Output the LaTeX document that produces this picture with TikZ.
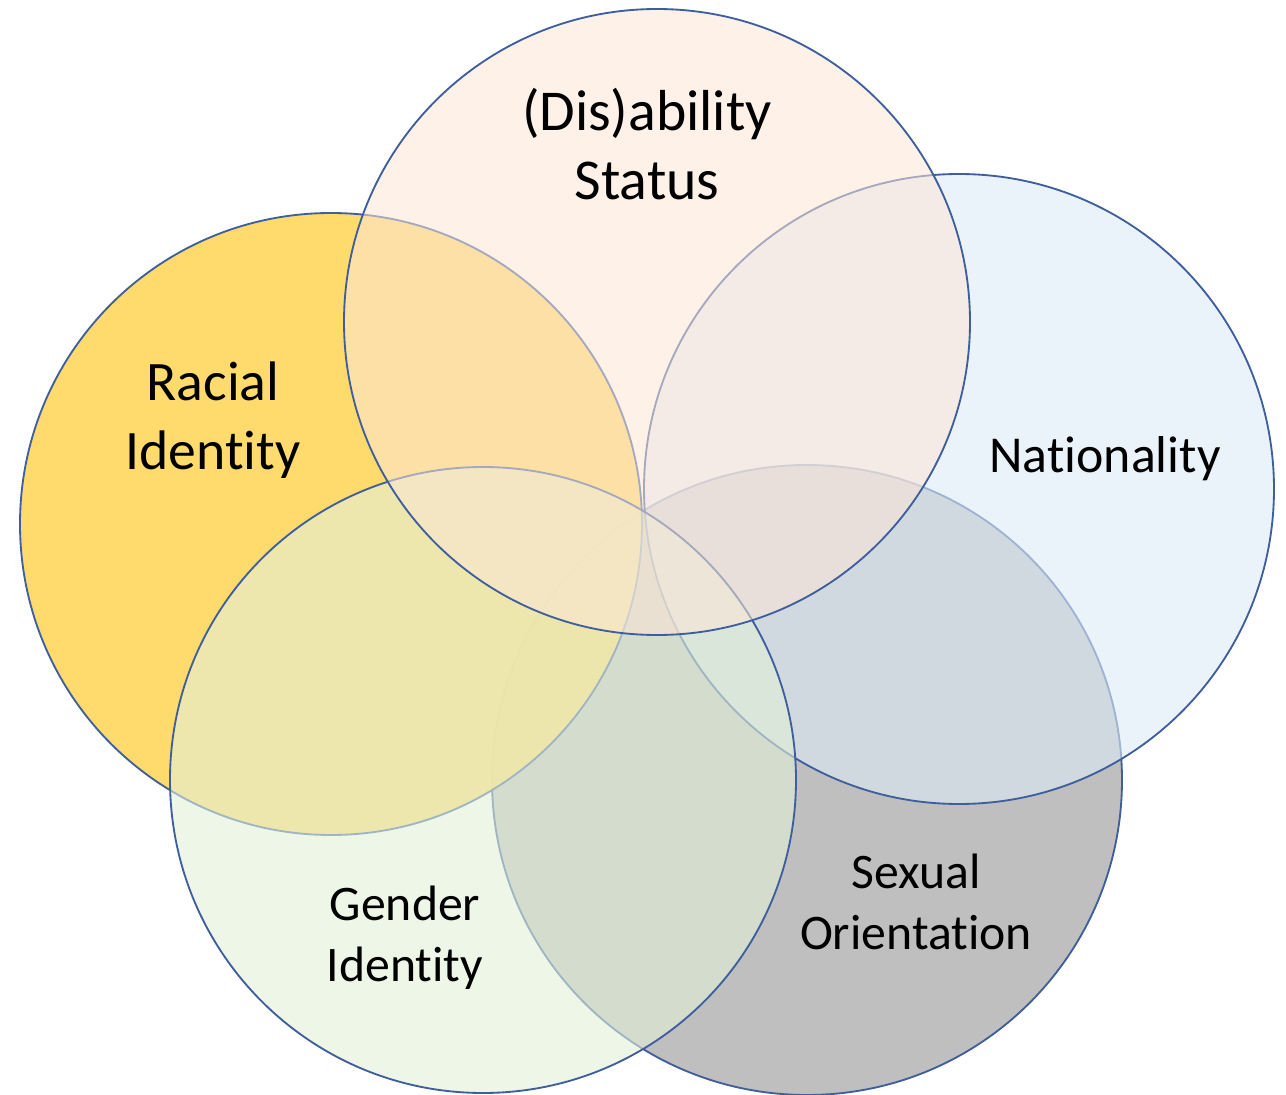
\documentclass[tikz,border=0pt]{standalone}
\usepackage{fontspec}
\setmainfont{Carlito}[Ligatures=NoCommon]
\begin{document}
\begin{tikzpicture}[x=0.02cm,y=-0.02cm,
  ring/.style={draw=ringblue,line width=1.05pt},
  lbl/.style={align=center,text=black,inner sep=0pt}]
\definecolor{ringblue}{HTML}{3F5E9E}
\definecolor{racialc}{HTML}{FFD966}
\definecolor{disc}{HTML}{FBE5D6}
\definecolor{natc}{HTML}{DEEBF7}
\definecolor{genc}{HTML}{E2F0D9}
\definecolor{sexc}{HTML}{BFBFBF}
\useasboundingbox (0,0) rectangle (1286,1095);
% circles, bottom layer first
\draw[ring,fill=sexc] (807,780) circle[radius=315];
\draw[ring,fill=natc,fill opacity=0.6] (959,489) circle[radius=315];
\draw[ring,fill=racialc,fill opacity=0.95] (331,524) circle[radius=311];
\draw[ring,fill=genc,fill opacity=0.6] (483,780) circle[radius=313];
\draw[ring,fill=disc,fill opacity=0.55] (657,322) circle[radius=313];
% labels
\node[lbl,font=\fontsize{32.9}{39}\selectfont] (dis) at (647,144) {(Dis)ability\\Status};
\node[lbl,font=\fontsize{31.7}{39.5}\selectfont] (rac) at (213,420) {Racial\\Identity};
\node[lbl,font=\fontsize{29.5}{36}\selectfont] (nat) at (1105,459) {Nationality};
\node[lbl,font=\fontsize{28.3}{34.5}\selectfont] (gen) at (405,938) {Gender\\Identity};
\node[lbl,font=\fontsize{28.3}{34.5}\selectfont] (sex) at (916,902) {Sexual\\Orientation};
\end{tikzpicture}
\end{document}
